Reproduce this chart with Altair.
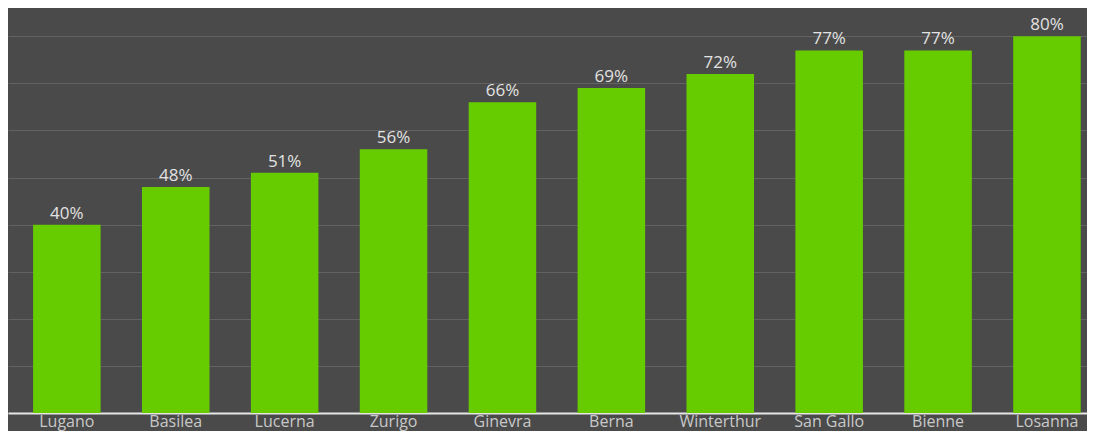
import altair as alt
import pandas as pd

cities = ["Lugano", "Basilea", "Lucerna", "Zurigo", "Ginevra", "Berna",
          "Winterthur", "San Gallo", "Bienne", "Losanna"]
values = [40, 48, 51, 56, 66, 69, 72, 77, 77, 80]
labels = [f"{v}%" for v in values]

df = pd.DataFrame({"city": cities, "value": values, "label": labels})

x = alt.X("city:N", sort=cities, title=None,
          scale=alt.Scale(paddingInner=0.38, paddingOuter=0.144, align=0.8),
          axis=alt.Axis(labelAngle=0, labelFont="Open Sans", labelFontSize=16,
                        labelColor="#c8c8c8", labelPadding=0, ticks=False,
                        domainColor="#e6e6e6", domainWidth=2, grid=False))
y = alt.Y("value:Q", title=None,
          scale=alt.Scale(domain=[0, 86], nice=False),
          axis=alt.Axis(values=[0, 10, 20, 30, 40, 50, 60, 70, 80], labels=False,
                        ticks=False, domain=False, grid=True,
                        gridColor="#626262", gridWidth=1))

bars = alt.Chart(df).mark_bar(color="#66cc00").encode(x=x, y=y)
text = alt.Chart(df).mark_text(font="Open Sans", fontSize=17, color="#e2e2e2",
                               baseline="alphabetic", dy=-6).encode(
    x=alt.X("city:N", sort=cities), y="value:Q", text="label:N")

chart = (bars + text).properties(
    width=1079, height=405,
    autosize=alt.AutoSizeParams(type="none"),
    padding={"left": 0, "top": 0, "right": 0, "bottom": 18},
    background="#4a4a4a",
).configure_view(stroke=None)

chart.save("out.html", embed_options={"renderer": "svg", "actions": False})
